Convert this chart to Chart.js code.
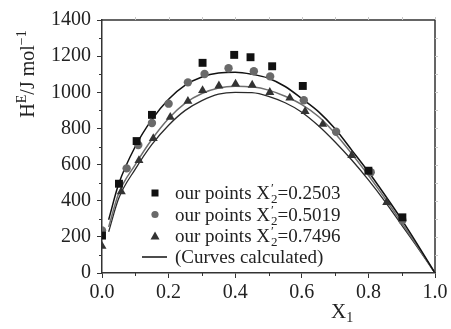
<!DOCTYPE html>
<html><head><meta charset="utf-8">
<script src="https://cdn.jsdelivr.net/npm/chart.js@4"></script>
<style>html,body{margin:0;padding:0;background:#fff}canvas{display:block}</style>
</head><body>
<canvas id="c" width="451" height="329"></canvas>
<script>
// ---- data ----
const xSquares = [0, 0.051, 0.104, 0.150, 0.302, 0.397, 0.446, 0.511, 0.603, 0.800, 0.902];
const hSquares = [207, 494, 730, 875, 1163, 1207, 1194, 1144, 1035, 566, 308];
const xCircles = [0, 0.074, 0.109, 0.150, 0.200, 0.258, 0.308, 0.380, 0.456, 0.505, 0.606, 0.703, 0.807, 0.902];
const hCircles = [236, 579, 708, 830, 937, 1055, 1101, 1133, 1116, 1088, 956, 782, 558, 292];
const xTriangles = [0, 0.058, 0.111, 0.154, 0.205, 0.258, 0.302, 0.351, 0.401, 0.451, 0.504, 0.564, 0.610, 0.663, 0.750, 0.855];
const hTriangles = [148, 450, 623, 745, 862, 951, 1010, 1036, 1046, 1040, 1000, 969, 894, 824, 651, 391];
const xCurve = [0.02, 0.05, 0.1, 0.15, 0.2, 0.25, 0.3, 0.35, 0.4, 0.45, 0.5, 0.55, 0.6, 0.65, 0.7, 0.75, 0.8, 0.85, 0.9, 0.95, 1.0];
const hCurveTop = [295, 492, 700, 850, 962, 1040, 1085, 1107, 1111, 1100, 1078, 1032, 965, 893, 798, 680, 560, 430, 295, 150, 0];
const hCurveMid = [255, 440, 600, 740, 855, 940, 993, 1024, 1034, 1030, 1012, 978, 932, 866, 772, 660, 540, 412, 278, 140, 0];
const hCurveLow = [228, 412, 575, 712, 818, 900, 954, 990, 1000, 998, 978, 942, 890, 815, 725, 625, 515, 395, 265, 135, 0];
const legendLabels = ["0.2503", "0.5019", "0.7496"];
const xTicks = [0, 0.2, 0.4, 0.6, 0.8, 1.0];
const yTicks = [0, 200, 400, 600, 800, 1000, 1200, 1400];

const pts = (xs, ys) => xs.map((x, i) => ({x: x, y: ys[i]}));
const SERIF = '"Liberation Serif", "Times New Roman", serif';
const AX = '#333';

const curve = (data, color, w) => ({
  type: 'line', data: data, borderColor: color, borderWidth: w, pointRadius: 0,
  cubicInterpolationMode: 'monotone', fill: false, order: 2
});
const marks = (data, style, color, r) => ({
  type: 'scatter', data: data, pointStyle: style, backgroundColor: color, borderColor: color,
  borderWidth: 0, pointRadius: r, order: 1
});

const extras = {
  id: 'extras',
  afterDraw(chart) {
    const ctx = chart.ctx, a = chart.chartArea;
    const xs = chart.scales.x, ys = chart.scales.y;
    ctx.save();
    // frame top/right
    ctx.strokeStyle = AX; ctx.lineWidth = 1.5;
    ctx.beginPath();
    ctx.moveTo(a.left, a.top); ctx.lineTo(a.right, a.top); ctx.lineTo(a.right, a.bottom);
    ctx.stroke();
    // minor ticks
    ctx.lineWidth = 1;
    ctx.beginPath();
    for (let v = 0.1; v < 1; v += 0.2) {
      const px = Math.round(xs.getPixelForValue(v)) + 0.5;
      ctx.moveTo(px, a.bottom); ctx.lineTo(px, a.bottom + 3);
    }
    for (let v = 100; v < 1400; v += 200) {
      const py = Math.round(ys.getPixelForValue(v)) + 0.5;
      ctx.moveTo(a.left, py); ctx.lineTo(a.left - 3, py);
    }
    ctx.stroke();
    // faint ticks top/right
    ctx.strokeStyle = '#c8c8c8';
    ctx.beginPath();
    for (let v = 0.1; v < 1; v += 0.1) {
      const px = Math.round(xs.getPixelForValue(v)) + 0.5;
      ctx.moveTo(px, a.top); ctx.lineTo(px, a.top - 3);
    }
    for (let v = 100; v < 1400; v += 100) {
      const py = Math.round(ys.getPixelForValue(v)) + 0.5;
      ctx.moveTo(a.right, py); ctx.lineTo(a.right + 3, py);
    }
    ctx.stroke();

    // legend
    const rows = [193, 214.5, 236];
    const mk = ['rect', 'circle', 'triangle'];
    const cols = ['#111', '#6a6a6a', '#333'];
    ctx.textBaseline = 'alphabetic';
    rows.forEach((y, i) => {
      ctx.fillStyle = cols[i];
      const mx = 155;
      if (mk[i] === 'rect') ctx.fillRect(mx - 3.5, y - 3.5, 7, 7);
      else if (mk[i] === 'circle') { ctx.beginPath(); ctx.arc(mx, y, 3.6, 0, 2 * Math.PI); ctx.fill(); }
      else { ctx.beginPath(); ctx.moveTo(mx, y - 4.5); ctx.lineTo(mx + 4.5, y + 3.5); ctx.lineTo(mx - 4.5, y + 3.5); ctx.closePath(); ctx.fill(); }
      ctx.fillStyle = '#222';
      let x = 175; const base = y + 6;
      ctx.font = '19px ' + SERIF;
      const t1 = 'our points X';
      ctx.fillText(t1, x, base); x += ctx.measureText(t1).width;
      ctx.font = '13px ' + SERIF;
      ctx.fillText('\u2032', x + 1, base - 7);
      ctx.fillText('2', x + 1, base + 4);
      x += ctx.measureText('2').width + 1;
      ctx.font = '19px ' + SERIF;
      ctx.fillText('=' + legendLabels[i], x, base);
    });
    ctx.strokeStyle = '#111'; ctx.lineWidth = 1.5;
    ctx.beginPath(); ctx.moveTo(142, 257); ctx.lineTo(167, 257); ctx.stroke();
    ctx.font = '19px ' + SERIF;
    ctx.fillText('(Curves calculated)', 175, 263);

    // x title
    ctx.font = '21px ' + SERIF;
    ctx.fillText('X', 331, 318);
    const wX = ctx.measureText('X').width;
    ctx.font = '14px ' + SERIF;
    ctx.fillText('1', 331 + wX, 322);

    // y title
    ctx.translate(34, 74);
    ctx.rotate(-Math.PI / 2);
    const parts = [['H', 20, 0], ['E', 14, -8], ['/J mol', 20, 0], ['\u22121', 14, -8]];
    let tw = 0;
    parts.forEach(p => { ctx.font = p[1] + 'px ' + SERIF; tw += ctx.measureText(p[0]).width; });
    let cx = -tw / 2;
    parts.forEach(p => { ctx.font = p[1] + 'px ' + SERIF; ctx.fillText(p[0], cx, p[2]); cx += ctx.measureText(p[0]).width; });
    ctx.restore();
  }
};

new Chart(document.getElementById('c'), {
  data: {
    datasets: [
      curve(pts(xCurve, hCurveTop), '#111', 1.5),
      curve(pts(xCurve, hCurveMid), '#6e6e6e', 1.5),
      curve(pts(xCurve, hCurveLow), '#2a2a2a', 1.3),
      marks(pts(xSquares, hSquares), 'rect', '#111', 5.6),
      marks(pts(xCircles, hCircles), 'circle', '#6a6a6a', 4.2),
      marks(pts(xTriangles, hTriangles), 'triangle', '#333', 5.2)
    ]
  },
  options: {
    responsive: false, animation: false, devicePixelRatio: 1,
    layout: {padding: {top: 20, right: 16, left: 0, bottom: 0}},
    plugins: {legend: {display: false}, tooltip: {enabled: false}},
    scales: {
      x: {
        type: 'linear', min: 0, max: 1,
        afterBuildTicks: s => { s.ticks = xTicks.map(v => ({value: v})); },
        afterFit: s => { s.height = 56; },
        ticks: {callback: v => Number(v).toFixed(1), font: {family: SERIF, size: 20}, color: '#222', padding: 3, maxRotation: 0},
        grid: {drawOnChartArea: false, drawTicks: true, tickLength: 5, color: AX, lineWidth: 1},
        border: {color: AX, width: 1.5}
      },
      y: {
        type: 'linear', min: 0, max: 1400,
        afterBuildTicks: s => { s.ticks = yTicks.map(v => ({value: v})); },
        afterFit: s => { s.width = 102; },
        ticks: {callback: v => String(v), font: {family: SERIF, size: 20}, color: '#222', padding: 6},
        grid: {drawOnChartArea: false, drawTicks: true, tickLength: 5, color: AX, lineWidth: 1},
        border: {color: AX, width: 1.5}
      }
    }
  },
  plugins: [extras]
});
</script>
</body></html>
